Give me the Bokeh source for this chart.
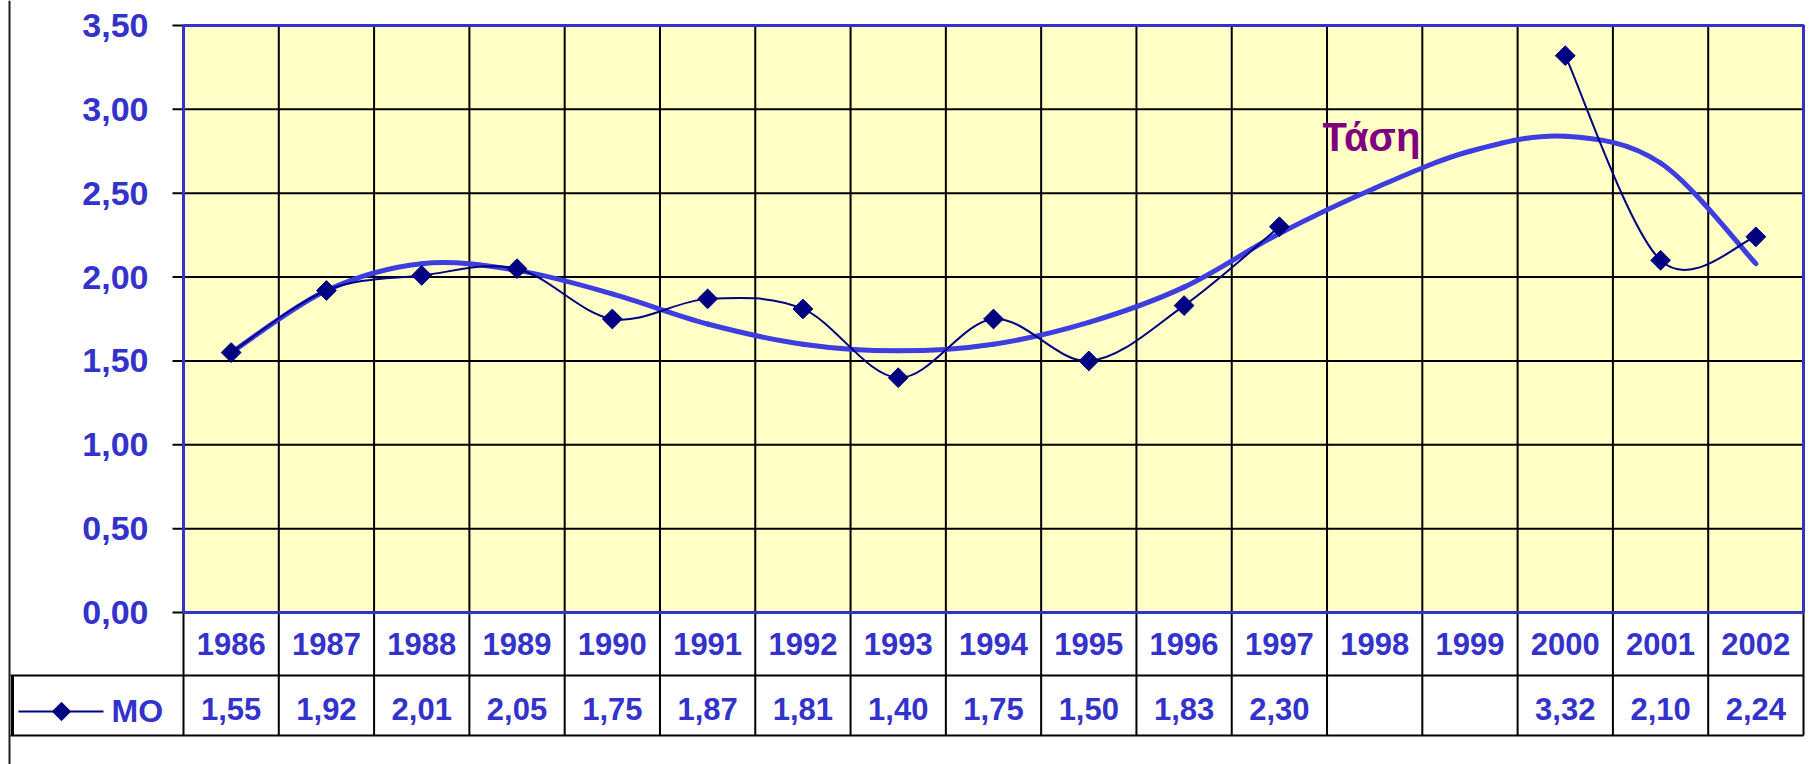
import numpy as np
from bokeh.plotting import figure
from bokeh.models import Range1d, Label, ColumnDataSource
from bokeh.core.properties import value
from bokeh.embed import file_html
from bokeh.resources import INLINE

# ---------------- data ----------------
years = ["1986", "1987", "1988", "1989", "1990", "1991", "1992", "1993", "1994",
         "1995", "1996", "1997", "1998", "1999", "2000", "2001", "2002"]
mo_values = [1.55, 1.92, 2.01, 2.05, 1.75, 1.87, 1.81, 1.40, 1.75, 1.50, 1.83,
             2.30, None, None, 3.32, 2.10, 2.24]
trend_values = [1.55, 1.92, 2.08, 2.04, 1.90, 1.72, 1.60, 1.56, 1.60, 1.73, 1.94,
                2.26, 2.53, 2.75, 2.84, 2.68, 2.08]
y_ticks = [0.0, 0.5, 1.0, 1.5, 2.0, 2.5, 3.0, 3.5]
series_name = "MO"
trend_label = "Τάση"

# ---------------- layout constants (page pixels) ----------------
W, H = 1809, 764
FRAME_L, FRAME_R = 183, 1803      # plot area
FRAME_T, FRAME_B = 25, 612
ROW1_B, ROW2_B = 675, 735         # bottoms of the year row and of the value row
LEFT_LINE = 9
KEY_L = 10

BLUE = "#3333CC"
NAVY = "#000080"
TREND = "#3D3DE0"
YELLOW = "#FFFFC6"
FONT = "Liberation Sans"

n = len(years)
y_max = y_ticks[-1]
sx = (FRAME_R - FRAME_L) / n
sy = (FRAME_B - FRAME_T) / y_max


def px2x(px):
    return (px - FRAME_L) / sx


def py2v(py):
    return (FRAME_B - py) / sy


xc = [i + 0.5 for i in range(n)]


def bezier_parts(xs, ys):
    out = {k: [] for k in ("x0", "y0", "x1", "y1", "cx0", "cy0", "cx1", "cy1")}
    m = len(xs)

    def ok(i):
        return 0 <= i < m and ys[i] is not None

    for i in range(m - 1):
        if not (ok(i) and ok(i + 1)):
            continue
        p = i - 1 if ok(i - 1) else i
        q = i + 2 if ok(i + 2) else i + 1
        out["x0"].append(xs[i]); out["y0"].append(ys[i])
        out["x1"].append(xs[i + 1]); out["y1"].append(ys[i + 1])
        out["cx0"].append(xs[i] + (xs[i + 1] - xs[p]) / 6.0)
        out["cy0"].append(ys[i] + (ys[i + 1] - ys[p]) / 6.0)
        out["cx1"].append(xs[i + 1] - (xs[q] - xs[i]) / 6.0)
        out["cy1"].append(ys[i + 1] - (ys[q] - ys[i]) / 6.0)
    return out


p = figure(width=W, height=H,
           x_range=Range1d(px2x(0), px2x(W)), y_range=Range1d(py2v(H), py2v(0)),
           output_backend="svg", toolbar_location=None,
           x_axis_location=None, y_axis_location=None,
           min_border_left=0, min_border_right=0, min_border_top=0, min_border_bottom=0)
p.grid.visible = False
p.outline_line_color = None
p.background_fill_color = "white"
p.border_fill_color = "white"

# chart-area frame line on the left
p.segment(x0=[px2x(LEFT_LINE)], y0=[py2v(0)], x1=[px2x(LEFT_LINE)], y1=[py2v(H)],
          line_color="#1e1e1e", line_width=2)
# heavier left border of the value row
p.segment(x0=[px2x(12)], y0=[py2v(ROW1_B)], x1=[px2x(12)], y1=[py2v(ROW2_B)],
          line_color="black", line_width=3)

# plot area
p.quad(left=[0], right=[n], bottom=[0], top=[y_max], fill_color=YELLOW, line_color=None)

# horizontal grid lines
inner = y_ticks[1:-1]
p.segment(x0=[0] * len(inner), y0=inner, x1=[n] * len(inner), y1=inner,
          line_color="black", line_width=2)
# vertical grid lines, continued as table column borders
vx = list(range(0, n + 1))
p.segment(x0=vx, y0=[py2v(ROW2_B)] * len(vx), x1=vx,
          y1=[y_max if 0 < v < n else 0 for v in vx],
          line_color="black", line_width=2)
# table row borders
hy = [py2v(ROW1_B), py2v(ROW2_B)]
p.segment(x0=[px2x(KEY_L)] * 2, y0=hy, x1=[n] * 2, y1=hy, line_color="black", line_width=2)

# y ticks and labels
p.segment(x0=[px2x(FRAME_L - 11)] * len(y_ticks), y0=y_ticks, x1=[0] * len(y_ticks),
          y1=y_ticks, line_color="black", line_width=2)
y_txt = [f"{v:.2f}".replace(".", ",") for v in y_ticks]
p.text(x=[px2x(FRAME_L - 35)] * len(y_ticks), y=y_ticks, text=y_txt,
       text_align="right", text_baseline="middle", text_font=value(FONT),
       text_font_style="bold", text_font_size="34px", text_color=BLUE)

# series
trend_src = ColumnDataSource(bezier_parts(xc, trend_values))
p.bezier(x0="x0", y0="y0", x1="x1", y1="y1", cx0="cx0", cy0="cy0", cx1="cx1", cy1="cy1",
         source=trend_src, line_color=TREND, line_width=5, line_cap="round")

mo_src = ColumnDataSource(bezier_parts(xc, mo_values))
p.bezier(x0="x0", y0="y0", x1="x1", y1="y1", cx0="cx0", cy0="cy0", cx1="cx1", cy1="cy1",
         source=mo_src, line_color=NAVY, line_width=2)

mx = [x for x, v in zip(xc, mo_values) if v is not None]
my = [v for v in mo_values if v is not None]
p.scatter(mx, my, marker="square", angle=np.pi / 4, size=14,
          fill_color=NAVY, line_color=NAVY)

# plot-area border (blue)
p.quad(left=[0], right=[n], bottom=[0], top=[y_max], fill_color=None,
       line_color=BLUE, line_width=3)

p.add_layout(Label(x=px2x(1322), y=py2v(136), text=trend_label, text_font=FONT,
                   text_font_style="bold", text_font_size="40px",
                   text_color="#800080", text_baseline="middle", text_align="left"))

# table: year row
p.text(x=xc, y=[py2v(643)] * n, text=years, text_align="center", text_baseline="middle",
       text_font=value(FONT), text_font_style="bold", text_font_size="31px",
       text_color=BLUE)
# table: value row
val_txt = ["" if v is None else f"{v:.2f}".replace(".", ",") for v in mo_values]
p.text(x=xc, y=[py2v(708)] * n, text=val_txt, text_align="center", text_baseline="middle",
       text_font=value(FONT), text_font_style="bold", text_font_size="31px",
       text_color=BLUE)

# legend key in the value row
p.segment(x0=[px2x(18)], y0=[py2v(711)], x1=[px2x(103)], y1=[py2v(711)],
          line_color=NAVY, line_width=2)
p.scatter([px2x(61)], [py2v(711)], marker="square", angle=np.pi / 4, size=13,
          fill_color=NAVY, line_color=NAVY)
p.text(x=[px2x(111)], y=[py2v(710)], text=[series_name], text_align="left",
       text_baseline="middle", text_font=value(FONT), text_font_style="bold",
       text_font_size="32px", text_color=BLUE)

open("out.html", "w").write(file_html(p, INLINE))
